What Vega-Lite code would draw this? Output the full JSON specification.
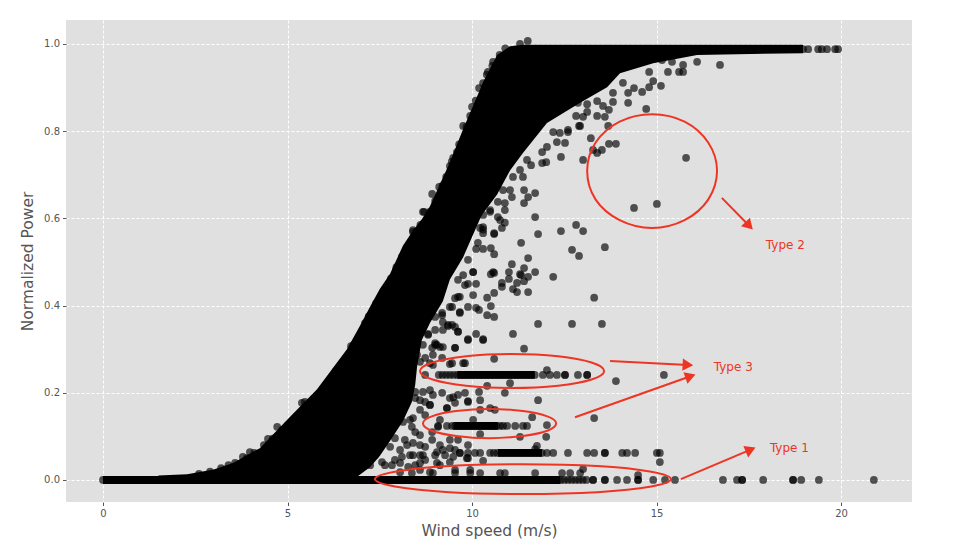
{"$schema":"https://vega.github.io/schema/vega-lite/v6.json","width":846,"height":482,"autosize":{"type":"none"},"padding":{"left":66,"top":20,"right":46,"bottom":46},"background":"white","view":{"fill":"#e0e0e0","stroke":null},
"config":{"font":"DejaVu Sans"},
"datasets":{
"core":[{"x":1.5,"y":0.01,"y2":-0.009},{"x":2.28,"y":0.013,"y2":-0.009},{"x":3.0,"y":0.024,"y2":-0.009},{"x":3.52,"y":0.039,"y2":-0.009},{"x":4.25,"y":0.073,"y2":-0.009},{"x":5.07,"y":0.145,"y2":-0.009},{"x":5.8,"y":0.208,"y2":-0.009},{"x":6.61,"y":0.3,"y2":-0.009},{"x":6.96,"y":0.353,"y2":0.012},{"x":7.24,"y":0.398,"y2":0.03},{"x":7.5,"y":0.438,"y2":0.055},{"x":7.78,"y":0.473,"y2":0.09},{"x":8.13,"y":0.538,"y2":0.135},{"x":8.37,"y":0.568,"y2":0.179},{"x":8.46,"y":0.578,"y2":0.218},{"x":8.51,"y":0.584,"y2":0.259},{"x":8.64,"y":0.598,"y2":0.321},{"x":8.86,"y":0.628,"y2":0.36},{"x":9.21,"y":0.693,"y2":0.41},{"x":9.4,"y":0.729,"y2":0.46},{"x":9.76,"y":0.805,"y2":0.511},{"x":10.22,"y":0.896,"y2":0.6},{"x":10.3,"y":0.913,"y2":0.612},{"x":10.68,"y":0.975,"y2":0.655},{"x":11.03,"y":0.995,"y2":0.71},{"x":11.38,"y":0.998,"y2":0.75},{"x":12.03,"y":0.998,"y2":0.819},{"x":12.93,"y":0.998,"y2":0.865},{"x":13.66,"y":0.998,"y2":0.901},{"x":14.01,"y":0.998,"y2":0.933},{"x":14.91,"y":0.998,"y2":0.956},{"x":16.1,"y":0.998,"y2":0.975},{"x":18.97,"y":0.998,"y2":0.979}],
"band":[{"s":"zero","x":0,"y":0.009,"y2":-0.009},{"s":"zero","x":12.4,"y":0.009,"y2":-0.009},{"s":"t3a","x":9.6,"y":0.25,"y2":0.232},{"s":"t3a","x":11.7,"y":0.25,"y2":0.232},{"s":"t3b","x":9.5,"y":0.133,"y2":0.115},{"s":"t3b","x":10.7,"y":0.133,"y2":0.115},{"s":"low","x":10.7,"y":0.071,"y2":0.053},{"s":"low","x":11.9,"y":0.071,"y2":0.053}],
"pts":[
{"x":0,"y":0},{"x":0.5,"y":0},{"x":1,"y":0},{"x":2,"y":0},{"x":3,"y":0},{"x":12.4,"y":0},{"x":12.5,"y":0},{"x":12.6,"y":0},{"x":12.7,"y":0},{"x":12.8,"y":0},{"x":12.9,"y":0},{"x":13.0,"y":0},{"x":13.1,"y":0},{"x":13.28,"y":0},{"x":13.28,"y":0},{"x":13.6,"y":0},{"x":13.6,"y":0},{"x":13.93,"y":0},{"x":14.2,"y":0},{"x":14.5,"y":0},{"x":14.5,"y":0},{"x":14.91,"y":0},{"x":15.23,"y":0},{"x":15.5,"y":0},{"x":16.8,"y":0},{"x":17.18,"y":0},{"x":17.32,"y":0},{"x":17.32,"y":0},{"x":17.89,"y":0},{"x":18.7,"y":0},{"x":18.7,"y":0},{"x":18.92,"y":0},{"x":19.4,"y":0},{"x":20.89,"y":0},
{"x":18.97,"y":0.988},{"x":19.11,"y":0.988},{"x":19.38,"y":0.988},{"x":19.48,"y":0.988},{"x":19.62,"y":0.988},{"x":19.84,"y":0.988},{"x":19.92,"y":0.988},
{"x":11.51,"y":1.007},{"x":11.3,"y":1.0},{"x":16.72,"y":0.952},{"x":16.1,"y":0.959},{"x":15.72,"y":0.952},{"x":15.72,"y":0.936},{"x":15.61,"y":0.936},{"x":15.31,"y":0.936},{"x":15.42,"y":0.959},{"x":15.15,"y":0.963},{"x":15.12,"y":0.904},{"x":14.91,"y":0.915},{"x":14.8,"y":0.901},{"x":14.61,"y":0.89},{"x":14.39,"y":0.899},{"x":14.8,"y":0.936},{"x":14.23,"y":0.888},{"x":14.23,"y":0.865},{"x":14.72,"y":0.851},{"x":14.09,"y":0.911},{"x":13.82,"y":0.888},{"x":13.82,"y":0.867},{"x":13.71,"y":0.849},{"x":13.6,"y":0.833},{"x":13.39,"y":0.835},{"x":13.39,"y":0.869},{"x":13.55,"y":0.858},{"x":13.12,"y":0.862},{"x":13.12,"y":0.844},{"x":12.87,"y":0.865},{"x":13.01,"y":0.833},{"x":12.82,"y":0.835},{"x":12.9,"y":0.812},{"x":12.6,"y":0.803},{"x":12.38,"y":0.796},{"x":12.2,"y":0.798},{"x":12.52,"y":0.773},{"x":12.3,"y":0.775},{"x":13.69,"y":0.812},{"x":13.22,"y":0.784},{"x":13.71,"y":0.771},{"x":13.9,"y":0.771},{"x":13.52,"y":0.757},{"x":13.39,"y":0.75},{"x":13.28,"y":0.757},{"x":13.01,"y":0.734},{"x":12.41,"y":0.741},{"x":11.9,"y":0.752},{"x":12.01,"y":0.729},{"x":11.9,"y":0.727},{"x":11.6,"y":0.722},{"x":11.49,"y":0.734},{"x":15.8,"y":0.739},{"x":15.01,"y":0.633},{"x":14.39,"y":0.624},
{"x":11.41,"y":0.665},{"x":11.71,"y":0.658},{"x":11.52,"y":0.649},{"x":11.41,"y":0.635},{"x":11.08,"y":0.649},{"x":11.03,"y":0.665},{"x":10.7,"y":0.638},{"x":11.71,"y":0.603},{"x":10.89,"y":0.619},{"x":10.76,"y":0.596},{"x":10.81,"y":0.578},{"x":10.49,"y":0.615},{"x":10.3,"y":0.58},{"x":10.6,"y":0.564},{"x":11.79,"y":0.564},{"x":12.41,"y":0.571},{"x":12.82,"y":0.585},{"x":13.01,"y":0.571},{"x":11.33,"y":0.544},{"x":12.71,"y":0.528},{"x":12.9,"y":0.514},{"x":13.6,"y":0.534},{"x":10.51,"y":0.532},{"x":10.3,"y":0.53},{"x":10.11,"y":0.53},{"x":10.6,"y":0.518},{"x":11.52,"y":0.509},{"x":11.08,"y":0.495},{"x":11.0,"y":0.477},{"x":11.41,"y":0.486},{"x":11.71,"y":0.477},{"x":12.2,"y":0.466},{"x":10.57,"y":0.477},{"x":11.33,"y":0.47},{"x":11.52,"y":0.466},{"x":11.3,"y":0.472},{"x":11.0,"y":0.461},{"x":10.81,"y":0.452},{"x":10.81,"y":0.443},{"x":11.22,"y":0.452},{"x":11.41,"y":0.456},{"x":11.11,"y":0.438},{"x":11.22,"y":0.431},{"x":11.52,"y":0.431},{"x":10.6,"y":0.429},{"x":10.41,"y":0.418},{"x":10.51,"y":0.399},{"x":13.31,"y":0.418},{"x":11.79,"y":0.358},{"x":12.71,"y":0.358},{"x":13.52,"y":0.358},{"x":11.11,"y":0.335},{"x":11.41,"y":0.301},{"x":10.6,"y":0.374},{"x":10.41,"y":0.378},{"x":10.11,"y":0.395},{"x":9.89,"y":0.397},{"x":10.19,"y":0.39},{"x":9.67,"y":0.383},{"x":10.03,"y":0.424},{"x":10.11,"y":0.45},{"x":9.89,"y":0.45},{"x":10.03,"y":0.477},{"x":10.03,"y":0.477},{"x":10.6,"y":0.475},{"x":10.51,"y":0.472},{"x":9.89,"y":0.505},{"x":10.6,"y":0.566},{"x":10.3,"y":0.574},{"x":10.89,"y":0.59},{"x":10.7,"y":0.603},{"x":10.11,"y":0.335},{"x":10.3,"y":0.323},{"x":9.89,"y":0.323},{"x":9.62,"y":0.34},{"x":9.35,"y":0.353},{"x":9.54,"y":0.351},{"x":8.81,"y":0.335},{"x":9.0,"y":0.31},{"x":9.13,"y":0.305},{"x":9.54,"y":0.303},{"x":8.67,"y":0.615},{"x":8.4,"y":0.569},{"x":8.21,"y":0.523},{"x":7.94,"y":0.482},{"x":8.73,"y":0.589},{"x":10.6,"y":0.278},{"x":9.89,"y":0.321},{"x":10.3,"y":0.321},{"x":9.05,"y":0.31},{"x":8.92,"y":0.303},{"x":9.81,"y":0.268},{"x":9.4,"y":0.266},{"x":8.86,"y":0.268},{"x":12.03,"y":0.252},
{"x":9.1,"y":0.241},{"x":9.2,"y":0.241},{"x":9.3,"y":0.241},{"x":9.4,"y":0.241},{"x":9.5,"y":0.241},{"x":9.6,"y":0.241},{"x":9.7,"y":0.241},{"x":9.8,"y":0.241},{"x":9.9,"y":0.241},{"x":10.0,"y":0.241},{"x":10.1,"y":0.241},{"x":10.2,"y":0.241},{"x":10.3,"y":0.241},{"x":10.4,"y":0.241},{"x":10.5,"y":0.241},{"x":10.6,"y":0.241},{"x":10.7,"y":0.241},{"x":10.8,"y":0.241},{"x":10.9,"y":0.241},{"x":11.0,"y":0.241},{"x":11.1,"y":0.241},{"x":11.2,"y":0.241},{"x":11.3,"y":0.241},{"x":11.4,"y":0.241},{"x":11.5,"y":0.241},{"x":11.6,"y":0.241},{"x":11.7,"y":0.241},{"x":11.92,"y":0.241},{"x":12.11,"y":0.241},{"x":12.3,"y":0.241},{"x":12.52,"y":0.241},{"x":12.52,"y":0.241},{"x":12.87,"y":0.241},{"x":13.12,"y":0.241},{"x":13.12,"y":0.241},{"x":15.2,"y":0.241},{"x":13.9,"y":0.227},
{"x":11.03,"y":0.222},{"x":10.41,"y":0.216},{"x":10.19,"y":0.202},{"x":10.89,"y":0.2},{"x":11.79,"y":0.183},{"x":9.81,"y":0.2},{"x":9.89,"y":0.181},{"x":10.22,"y":0.183},{"x":9.49,"y":0.19},{"x":9.32,"y":0.165},{"x":8.86,"y":0.172},{"x":10.49,"y":0.165},{"x":10.22,"y":0.161},{"x":10.62,"y":0.161},{"x":11.63,"y":0.144},{"x":12.03,"y":0.126},{"x":11.3,"y":0.099},{"x":12.01,"y":0.099},{"x":13.31,"y":0.142},{"x":10.03,"y":0.138},
{"x":9.08,"y":0.124},{"x":9.32,"y":0.124},{"x":9.46,"y":0.124},{"x":9.54,"y":0.124},{"x":9.62,"y":0.124},{"x":9.7,"y":0.124},{"x":9.78,"y":0.124},{"x":9.86,"y":0.124},{"x":9.94,"y":0.124},{"x":10.02,"y":0.124},{"x":10.1,"y":0.124},{"x":10.18,"y":0.124},{"x":10.26,"y":0.124},{"x":10.34,"y":0.124},{"x":10.42,"y":0.124},{"x":10.5,"y":0.124},{"x":10.58,"y":0.124},{"x":10.66,"y":0.124},{"x":10.76,"y":0.124},{"x":10.84,"y":0.124},{"x":10.95,"y":0.124},{"x":11.17,"y":0.124},{"x":11.38,"y":0.124},{"x":11.49,"y":0.124},
{"x":10.22,"y":0.105},{"x":9.62,"y":0.092},{"x":11.76,"y":0.078},{"x":11.71,"y":0.071},
{"x":9.67,"y":0.062},{"x":9.89,"y":0.062},{"x":10.08,"y":0.062},{"x":10.22,"y":0.062},{"x":10.49,"y":0.062},{"x":10.59,"y":0.062},{"x":10.69,"y":0.062},{"x":10.79,"y":0.062},{"x":10.89,"y":0.062},{"x":10.99,"y":0.062},{"x":11.09,"y":0.062},{"x":11.19,"y":0.062},{"x":11.29,"y":0.062},{"x":11.39,"y":0.062},{"x":11.49,"y":0.062},{"x":11.59,"y":0.062},{"x":11.69,"y":0.062},{"x":11.79,"y":0.062},{"x":11.89,"y":0.062},{"x":12.03,"y":0.062},{"x":12.2,"y":0.062},{"x":12.6,"y":0.062},{"x":13.12,"y":0.062},{"x":13.31,"y":0.062},{"x":13.6,"y":0.062},{"x":13.6,"y":0.062},{"x":14.07,"y":0.062},{"x":14.2,"y":0.062},{"x":14.42,"y":0.062},{"x":15.01,"y":0.062},{"x":15.09,"y":0.062},{"x":15.09,"y":0.041},
{"x":10.3,"y":0.044},{"x":9.86,"y":0.05},{"x":13.01,"y":0.025},{"x":14.5,"y":0.011},{"x":12.44,"y":0.016},{"x":8.37,"y":0.016},{"x":9.95,"y":0.016},{"x":10.22,"y":0.016},{"x":10.76,"y":0.016},{"x":10.89,"y":0.016},{"x":11.71,"y":0.016},{"x":12.66,"y":0.016},{"x":12.93,"y":0.016},
{"x":8.46,"y":0.202},{"x":8.59,"y":0.183},{"x":8.86,"y":0.206},{"x":9.13,"y":0.138},{"x":8.73,"y":0.149},{"x":8.92,"y":0.11},{"x":8.46,"y":0.11},{"x":8.18,"y":0.092},{"x":8.59,"y":0.08},{"x":9.13,"y":0.08},{"x":9.4,"y":0.092},{"x":9.27,"y":0.057},{"x":8.32,"y":0.057},{"x":8.05,"y":0.069},{"x":8.73,"y":0.046},{"x":8.46,"y":0.034},{"x":7.91,"y":0.046},{"x":7.64,"y":0.034},{"x":9.13,"y":0.034},{"x":9.54,"y":0.023},{"x":9.95,"y":0.023},{"x":8.86,"y":0.018},{"x":8.05,"y":0.018},{"x":8.59,"y":0.023},{"x":9.4,"y":0.041},{"x":9.0,"y":0.057},{"x":9.54,"y":0.069},{"x":9.89,"y":0.08},{"x":8.59,"y":0.057},{"x":8.32,"y":0.138},{"x":8.73,"y":0.241},
{"x":4.72,"y":0.122},{"x":4.47,"y":0.094},{"x":5.47,"y":0.179},{"x":5.39,"y":0.177},{"x":6.31,"y":0.25},{"x":6.72,"y":0.307},{"x":3.98,"y":0.064},{"x":3.79,"y":0.053},{"x":3.58,"y":0.039},{"x":6.02,"y":0.213},{"x":5.8,"y":0.19},{"x":6.61,"y":0.275},{"x":5.2,"y":0.133},{"x":4.36,"y":0.08},{"x":10.57,"y":0.959},{"x":10.43,"y":0.936},{"x":10.19,"y":0.899},{"x":10.0,"y":0.856},{"x":9.76,"y":0.812},{"x":9.4,"y":0.72},{"x":9.49,"y":0.739},{"x":9.59,"y":0.752},{"x":9.11,"y":0.672},{"x":8.92,"y":0.656},{"x":8.7,"y":0.615},{"x":8.7,"y":0.589},{"x":8.4,"y":0.573},{"x":7.29,"y":0.378},{"x":7.51,"y":0.413},{"x":7.02,"y":0.333},
{"x":2.6,"y":0.014},{"x":2.9,"y":0.019},{"x":3.2,"y":0.027},{"x":3.4,"y":0.034},{"x":3.9,"y":0.05},{"x":4.1,"y":0.062},{"x":4.6,"y":0.095},{"x":4.85,"y":0.115},{"x":5.0,"y":0.125},{"x":5.6,"y":0.17},{"x":6.0,"y":0.205},{"x":6.2,"y":0.232},{"x":6.4,"y":0.258},{"x":6.8,"y":0.31},{"x":6.95,"y":0.33},{"x":7.1,"y":0.36},{"x":7.2,"y":0.375},{"x":7.4,"y":0.405},{"x":7.6,"y":0.43},{"x":7.8,"y":0.462},{"x":7.95,"y":0.488},{"x":8.1,"y":0.512},{"x":8.3,"y":0.54},{"x":8.5,"y":0.57},{"x":8.6,"y":0.585},{"x":8.85,"y":0.615},{"x":9.0,"y":0.64},{"x":9.2,"y":0.675},{"x":9.3,"y":0.695},{"x":9.45,"y":0.73},{"x":9.65,"y":0.77},{"x":9.85,"y":0.81},{"x":9.95,"y":0.835},{"x":10.1,"y":0.87},{"x":10.3,"y":0.91},{"x":10.4,"y":0.93},{"x":10.55,"y":0.95},{"x":10.75,"y":0.975},{"x":10.9,"y":0.99},
{"x":9.62,"y":0.42},{"x":9.46,"y":0.397},{"x":9.67,"y":0.385},{"x":9.19,"y":0.383},{"x":9.21,"y":0.362},{"x":9.35,"y":0.356},{"x":9.0,"y":0.344},{"x":8.81,"y":0.333},{"x":9.21,"y":0.344},{"x":9.62,"y":0.34},{"x":8.67,"y":0.31},{"x":9.0,"y":0.314},{"x":9.21,"y":0.305},{"x":9.54,"y":0.303},{"x":8.94,"y":0.287},{"x":8.51,"y":0.287},{"x":8.73,"y":0.28},{"x":9.19,"y":0.28},{"x":9.46,"y":0.268},{"x":9.76,"y":0.268},{"x":8.94,"y":0.264},{"x":8.59,"y":0.271},
{"x":8.67,"y":0.202},{"x":8.94,"y":0.195},{"x":8.46,"y":0.188},{"x":8.73,"y":0.179},{"x":9.19,"y":0.2},{"x":9.4,"y":0.188},{"x":9.62,"y":0.195},{"x":9.89,"y":0.179},{"x":9.54,"y":0.177},{"x":8.86,"y":0.172},{"x":9.32,"y":0.165},{"x":8.59,"y":0.161},{"x":8.4,"y":0.142},{"x":8.37,"y":0.122},{"x":8.13,"y":0.133},{"x":9.08,"y":0.122},{"x":8.92,"y":0.092},{"x":8.59,"y":0.103},{"x":8.4,"y":0.085},{"x":8.73,"y":0.076},{"x":8.24,"y":0.08},{"x":7.91,"y":0.096},{"x":7.78,"y":0.076},{"x":9.21,"y":0.069},{"x":9.4,"y":0.073},{"x":9.05,"y":0.064},{"x":9.67,"y":0.062},{"x":9.89,"y":0.05},{"x":9.49,"y":0.053},{"x":8.67,"y":0.057},{"x":8.4,"y":0.057},{"x":8.1,"y":0.053},{"x":7.83,"y":0.034},{"x":7.56,"y":0.041},{"x":7.37,"y":0.057},{"x":8.59,"y":0.039},{"x":8.27,"y":0.03},{"x":9.05,"y":0.039},{"x":8.05,"y":0.039},{"x":7.24,"y":0.034},{"x":9.54,"y":0.016},{"x":8.94,"y":0.016},
{"x":12.93,"y":0.812},{"x":12.6,"y":0.798},{"x":12.03,"y":0.764},{"x":11.3,"y":0.711},{"x":11.38,"y":0.695},{"x":11.11,"y":0.695},{"x":10.84,"y":0.665},{"x":10.89,"y":0.635},{"x":10.49,"y":0.619},{"x":10.3,"y":0.608},{"x":10.22,"y":0.578},{"x":10.3,"y":0.566},{"x":10.16,"y":0.544},{"x":9.76,"y":0.47},{"x":9.62,"y":0.459},{"x":9.81,"y":0.447},{"x":9.54,"y":0.417},{"x":9.67,"y":0.42},{"x":9.4,"y":0.397},{"x":9.19,"y":0.378},{"x":9.46,"y":0.356},{"x":9.0,"y":0.374}
],
"ellipses":[
{"e":"a","i":0,"x":16.64,"y":0.709},{"e":"a","i":1,"x":16.4,"y":0.774},{"e":"a","i":2,"x":15.76,"y":0.822},{"e":"a","i":3,"x":14.88,"y":0.839},{"e":"a","i":4,"x":14.0,"y":0.822},{"e":"a","i":5,"x":13.35,"y":0.774},{"e":"a","i":6,"x":13.12,"y":0.709},{"e":"a","i":7,"x":13.35,"y":0.643},{"e":"a","i":8,"x":14.0,"y":0.596},{"e":"a","i":9,"x":14.88,"y":0.578},{"e":"a","i":10,"x":15.76,"y":0.596},{"e":"a","i":11,"x":16.4,"y":0.643},
{"e":"b","i":0,"x":13.58,"y":0.25},{"e":"b","i":1,"x":13.24,"y":0.2695},{"e":"b","i":2,"x":12.33,"y":0.2838},{"e":"b","i":3,"x":11.08,"y":0.289},{"e":"b","i":4,"x":9.84,"y":0.2838},{"e":"b","i":5,"x":8.93,"y":0.2695},{"e":"b","i":6,"x":8.59,"y":0.25},{"e":"b","i":7,"x":8.93,"y":0.2305},{"e":"b","i":8,"x":9.84,"y":0.2162},{"e":"b","i":9,"x":11.08,"y":0.211},{"e":"b","i":10,"x":12.33,"y":0.2162},{"e":"b","i":11,"x":13.24,"y":0.2305},
{"e":"c","i":0,"x":12.28,"y":0.13},{"e":"c","i":1,"x":12.04,"y":0.146},{"e":"c","i":2,"x":11.38,"y":0.158},{"e":"c","i":3,"x":10.47,"y":0.163},{"e":"c","i":4,"x":9.57,"y":0.158},{"e":"c","i":5,"x":8.91,"y":0.146},{"e":"c","i":6,"x":8.67,"y":0.13},{"e":"c","i":7,"x":8.91,"y":0.113},{"e":"c","i":8,"x":9.57,"y":0.101},{"e":"c","i":9,"x":10.47,"y":0.096},{"e":"c","i":10,"x":11.38,"y":0.101},{"e":"c","i":11,"x":12.04,"y":0.113},
{"e":"d","i":0,"x":15.39,"y":0.002},{"e":"d","i":1,"x":14.86,"y":0.019},{"e":"d","i":2,"x":13.39,"y":0.032},{"e":"d","i":3,"x":11.38,"y":0.036},{"e":"d","i":4,"x":9.38,"y":0.032},{"e":"d","i":5,"x":7.91,"y":0.019},{"e":"d","i":6,"x":7.37,"y":0.002},{"e":"d","i":7,"x":7.91,"y":-0.015},{"e":"d","i":8,"x":9.38,"y":-0.028},{"e":"d","i":9,"x":11.38,"y":-0.032},{"e":"d","i":10,"x":13.39,"y":-0.028},{"e":"d","i":11,"x":14.86,"y":-0.015}
],
"shafts":[{"x":16.77,"y":0.647,"x2":17.51,"y2":0.583},{"x":13.74,"y":0.273,"x2":15.85,"y2":0.264},{"x":12.79,"y":0.144,"x2":15.92,"y2":0.238},{"x":15.66,"y":0.002,"x2":17.55,"y2":0.0695}],
"labels":[{"x":18.49,"y":0.539,"t":"Type 2"},{"x":17.08,"y":0.259,"t":"Type 3"},{"x":18.6,"y":0.073,"t":"Type 1"}]
},
"encoding":{
"x":{"field":"x","type":"quantitative","title":"Wind speed (m/s)","scale":{"domain":[-1.003,21.923],"nice":false,"zero":false},"axis":{"values":[0,5,10,15,20],"format":"d","grid":true,"gridColor":"#ffffff","gridDash":[3,2],"gridWidth":1,"domain":false,"tickColor":"#555555","tickSize":3.5,"labelColor":"#555555","labelFontSize":10,"labelPadding":3,"titleColor":"#555555","titleFontSize":15.5,"titleFontWeight":"normal","titlePadding":5}},
"y":{"field":"y","type":"quantitative","title":"Normalized Power","scale":{"domain":[-0.0505,1.055],"nice":false,"zero":false},"axis":{"values":[0,0.2,0.4,0.6,0.8,1],"format":".1f","grid":true,"gridColor":"#ffffff","gridDash":[3,2],"gridWidth":1,"domain":false,"tickColor":"#555555","tickSize":3.5,"labelColor":"#555555","labelFontSize":10,"labelPadding":3,"titleColor":"#555555","titleFontSize":15.5,"titleFontWeight":"normal","titlePadding":8}}
},
"layer":[
{"data":{"name":"core"},"mark":{"type":"area","color":"#000000","orient":"vertical"},"encoding":{"y2":{"field":"y2"}}},
{"data":{"name":"band"},"mark":{"type":"area","color":"#000000","orient":"vertical"},"encoding":{"y2":{"field":"y2"},"detail":{"field":"s"}}},
{"data":{"name":"pts"},"mark":{"type":"circle","color":"#000000","opacity":0.65,"size":60}},
{"data":{"name":"ellipses"},"mark":{"type":"line","color":"#ee3524","strokeWidth":2,"interpolate":"cardinal-closed"},"encoding":{"detail":{"field":"e"},"order":{"field":"i"}}},
{"data":{"name":"shafts"},"mark":{"type":"rule","color":"#ee3524","strokeWidth":2},"encoding":{"x2":{"field":"x2"},"y2":{"field":"y2"}}},
{"data":{"values":[{"x":17.51,"y":0.583}]},"mark":{"type":"point","filled":true,"opacity":1,"color":"#ee3524","shape":"triangle-up","size":150,"angle":136}},
{"data":{"values":[{"x":15.85,"y":0.264}]},"mark":{"type":"point","filled":true,"opacity":1,"color":"#ee3524","shape":"triangle-up","size":150,"angle":93}},
{"data":{"values":[{"x":15.92,"y":0.238}]},"mark":{"type":"point","filled":true,"opacity":1,"color":"#ee3524","shape":"triangle-up","size":150,"angle":71}},
{"data":{"values":[{"x":17.55,"y":0.0695}]},"mark":{"type":"point","filled":true,"opacity":1,"color":"#ee3524","shape":"triangle-up","size":150,"angle":67}},
{"data":{"name":"labels"},"mark":{"type":"text","color":"#ee3524","fontSize":12,"font":"DejaVu Sans"},"encoding":{"text":{"field":"t"}}}
]}
